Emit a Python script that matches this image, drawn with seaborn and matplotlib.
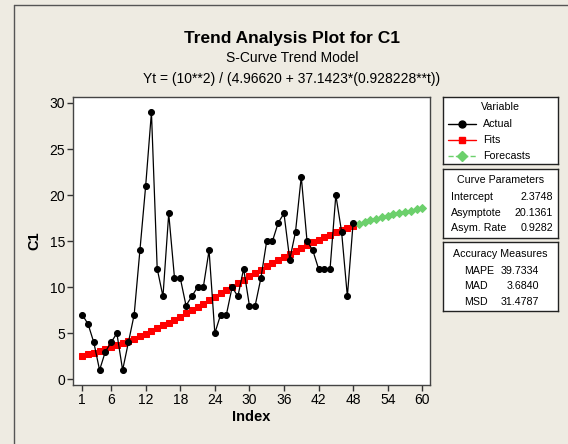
import numpy as np
import pandas as pd
import matplotlib.pyplot as plt
import seaborn as sns
from matplotlib import font_manager
from matplotlib.lines import Line2D

# data
index = list(range(1, 49))
actual = [7, 6, 4, 1, 3, 4, 5, 1, 4, 7, 14, 21, 29, 12, 9, 18, 11, 11, 8, 9,
          10, 10, 14, 5, 7, 7, 10, 9, 12, 8, 8, 11, 15, 15, 17, 18, 13, 16, 22, 15,
          14, 12, 12, 12, 20, 16, 9, 17]
fits = [2.535, 2.705, 2.884, 3.073, 3.272, 3.481, 3.701, 3.932, 4.173, 4.424,
        4.687, 4.960, 5.243, 5.537, 5.841, 6.155, 6.478, 6.809, 7.149, 7.496,
        7.850, 8.209, 8.574, 8.942, 9.314, 9.687, 10.062, 10.437, 10.811, 11.182,
        11.551, 11.916, 12.275, 12.629, 12.976, 13.316, 13.648, 13.971, 14.285, 14.589,
        14.884, 15.167, 15.441, 15.704, 15.956, 16.197, 16.428, 16.648]
fc_index = list(range(49, 61))
forecasts = [16.857, 17.057, 17.246, 17.426, 17.596, 17.756, 17.908, 18.052,
             18.187, 18.314, 18.434, 18.546]
xticks = [1, 6, 12, 18, 24, 30, 36, 42, 48, 54, 60]
yticks = [0, 5, 10, 15, 20, 25, 30]
curve_params = [("Intercept", "2.3748"), ("Asymptote", "20.1361"), ("Asym. Rate", "0.9282")]
accuracy = [("MAPE", "39.7334"), ("MAD", "3.6840"), ("MSD", "31.4787")]

bg = '#EEEBE2'
red = '#FF0000'
green = '#6CD06C'

sns.set_theme(style='white')
names = {f.name for f in font_manager.fontManager.ttflist}
main_font = 'Liberation Sans' if 'Liberation Sans' in names else 'DejaVu Sans'
plt.rcParams['font.family'] = [main_font, 'DejaVu Sans']
plt.rcParams['text.color'] = 'black'
plt.rcParams['axes.labelcolor'] = 'black'
plt.rcParams['xtick.color'] = 'black'
plt.rcParams['ytick.color'] = 'black'

W, H = 568, 444
fig = plt.figure(figsize=(W / 100, H / 100), dpi=100, facecolor=bg)


def fx(px):
    return px / W


def fy(py):
    return 1 - py / H


# outer frame (left and top edges visible)
fig.add_artist(Line2D([fx(14), fx(14)], [fy(5), 0], color='#555555', lw=1))
fig.add_artist(Line2D([fx(14), 1], [fy(5), fy(5)], color='#555555', lw=1))

ax = fig.add_axes([fx(73.3), fy(385), fx(430 - 73.3), (385 - 96.7) / H])
ax.set_facecolor('white')

df_act = pd.DataFrame({'Index': index, 'C1': actual})
df_fit = pd.DataFrame({'Index': index, 'C1': fits})
df_fc = pd.DataFrame({'Index': fc_index, 'C1': forecasts})

sns.lineplot(data=df_fit, x='Index', y='C1', color=red, lw=1, marker='s',
             markersize=4.4, markeredgecolor=red, ax=ax, zorder=2)
sns.lineplot(data=df_fc, x='Index', y='C1', color=green, lw=1, ls='--', marker='D',
             markersize=4.4, markeredgecolor=green, ax=ax, zorder=2)
sns.lineplot(data=df_act, x='Index', y='C1', color='black', lw=0.9, marker='o',
             markersize=4.3, markeredgecolor='black', ax=ax, zorder=3)

ax.set_xlim(-0.56, 61.34)
ax.set_ylim(-0.62, 30.68)
ax.set_xticks(xticks)
ax.set_yticks(yticks)
ax.tick_params(axis='both', direction='out', length=4, width=1, color='#333333',
               labelsize=10, pad=2, bottom=True, left=True)
for s in ax.spines.values():
    s.set_color('#444444')
    s.set_linewidth(1)
ax.set_xlabel('Index', fontsize=10.5, fontweight='bold', labelpad=2)
ax.set_ylabel('C1', fontsize=10.5, fontweight='bold', labelpad=6)

# titles
fig.text(fx(292), fy(38), 'Trend Analysis Plot for C1', ha='center', va='center',
         fontsize=12.5, fontweight='bold')
fig.text(fx(292), fy(57.5), 'S-Curve Trend Model', ha='center', va='center', fontsize=10)
fig.text(fx(292), fy(78.5), 'Yt = (10**2) / (4.96620 + 37.1423*(0.928228**t))',
         ha='center', va='center', fontsize=10)


def panel(x0, y0, x1, y1):
    p = fig.add_axes([fx(x0), fy(y1), fx(x1 - x0), (y1 - y0) / H])
    p.set_xlim(x0, x1)
    p.set_ylim(y1, y0)
    p.set_xticks([])
    p.set_yticks([])
    p.set_facecolor('white')
    for s in p.spines.values():
        s.set_color('#222222')
        s.set_linewidth(1)
    return p


fs = 7.7
# Variable legend
p1 = panel(443.3, 96.7, 558, 164)
p1.text(500.5, 107.3, 'Variable', ha='center', va='center', fontsize=fs)
legend_rows = [('Actual', 'black', '-', 'o', 123.7),
               ('Fits', red, '-', 's', 140),
               ('Forecasts', green, '--', 'D', 155.7)]
for label, col, ls, mk, yy in legend_rows:
    p1.plot([448, 476], [yy, yy], color=col, ls=ls, lw=1)
    p1.plot([462], [yy], color=col, marker=mk, markersize=5)
    p1.text(482.7, yy, label, ha='left', va='center', fontsize=fs)

# Curve parameters
p2 = panel(443.3, 169, 558, 237.7)
p2.text(500.5, 180, 'Curve Parameters', ha='center', va='center', fontsize=fs)
for (lab, val), yy in zip(curve_params, [197, 212.7, 228]):
    p2.text(450.7, yy, lab, ha='left', va='center', fontsize=fs)
    p2.text(553, yy, val, ha='right', va='center', fontsize=fs)

# Accuracy measures
p3 = panel(443.3, 241.7, 558, 310.7)
p3.text(500.5, 254.3, 'Accuracy Measures', ha='center', va='center', fontsize=fs)
for (lab, val), yy in zip(accuracy, [270.7, 286, 302]):
    p3.text(464.3, yy, lab, ha='left', va='center', fontsize=fs)
    p3.text(539, yy, val, ha='right', va='center', fontsize=fs)

fig.savefig('out.png', dpi=100, facecolor=bg)
